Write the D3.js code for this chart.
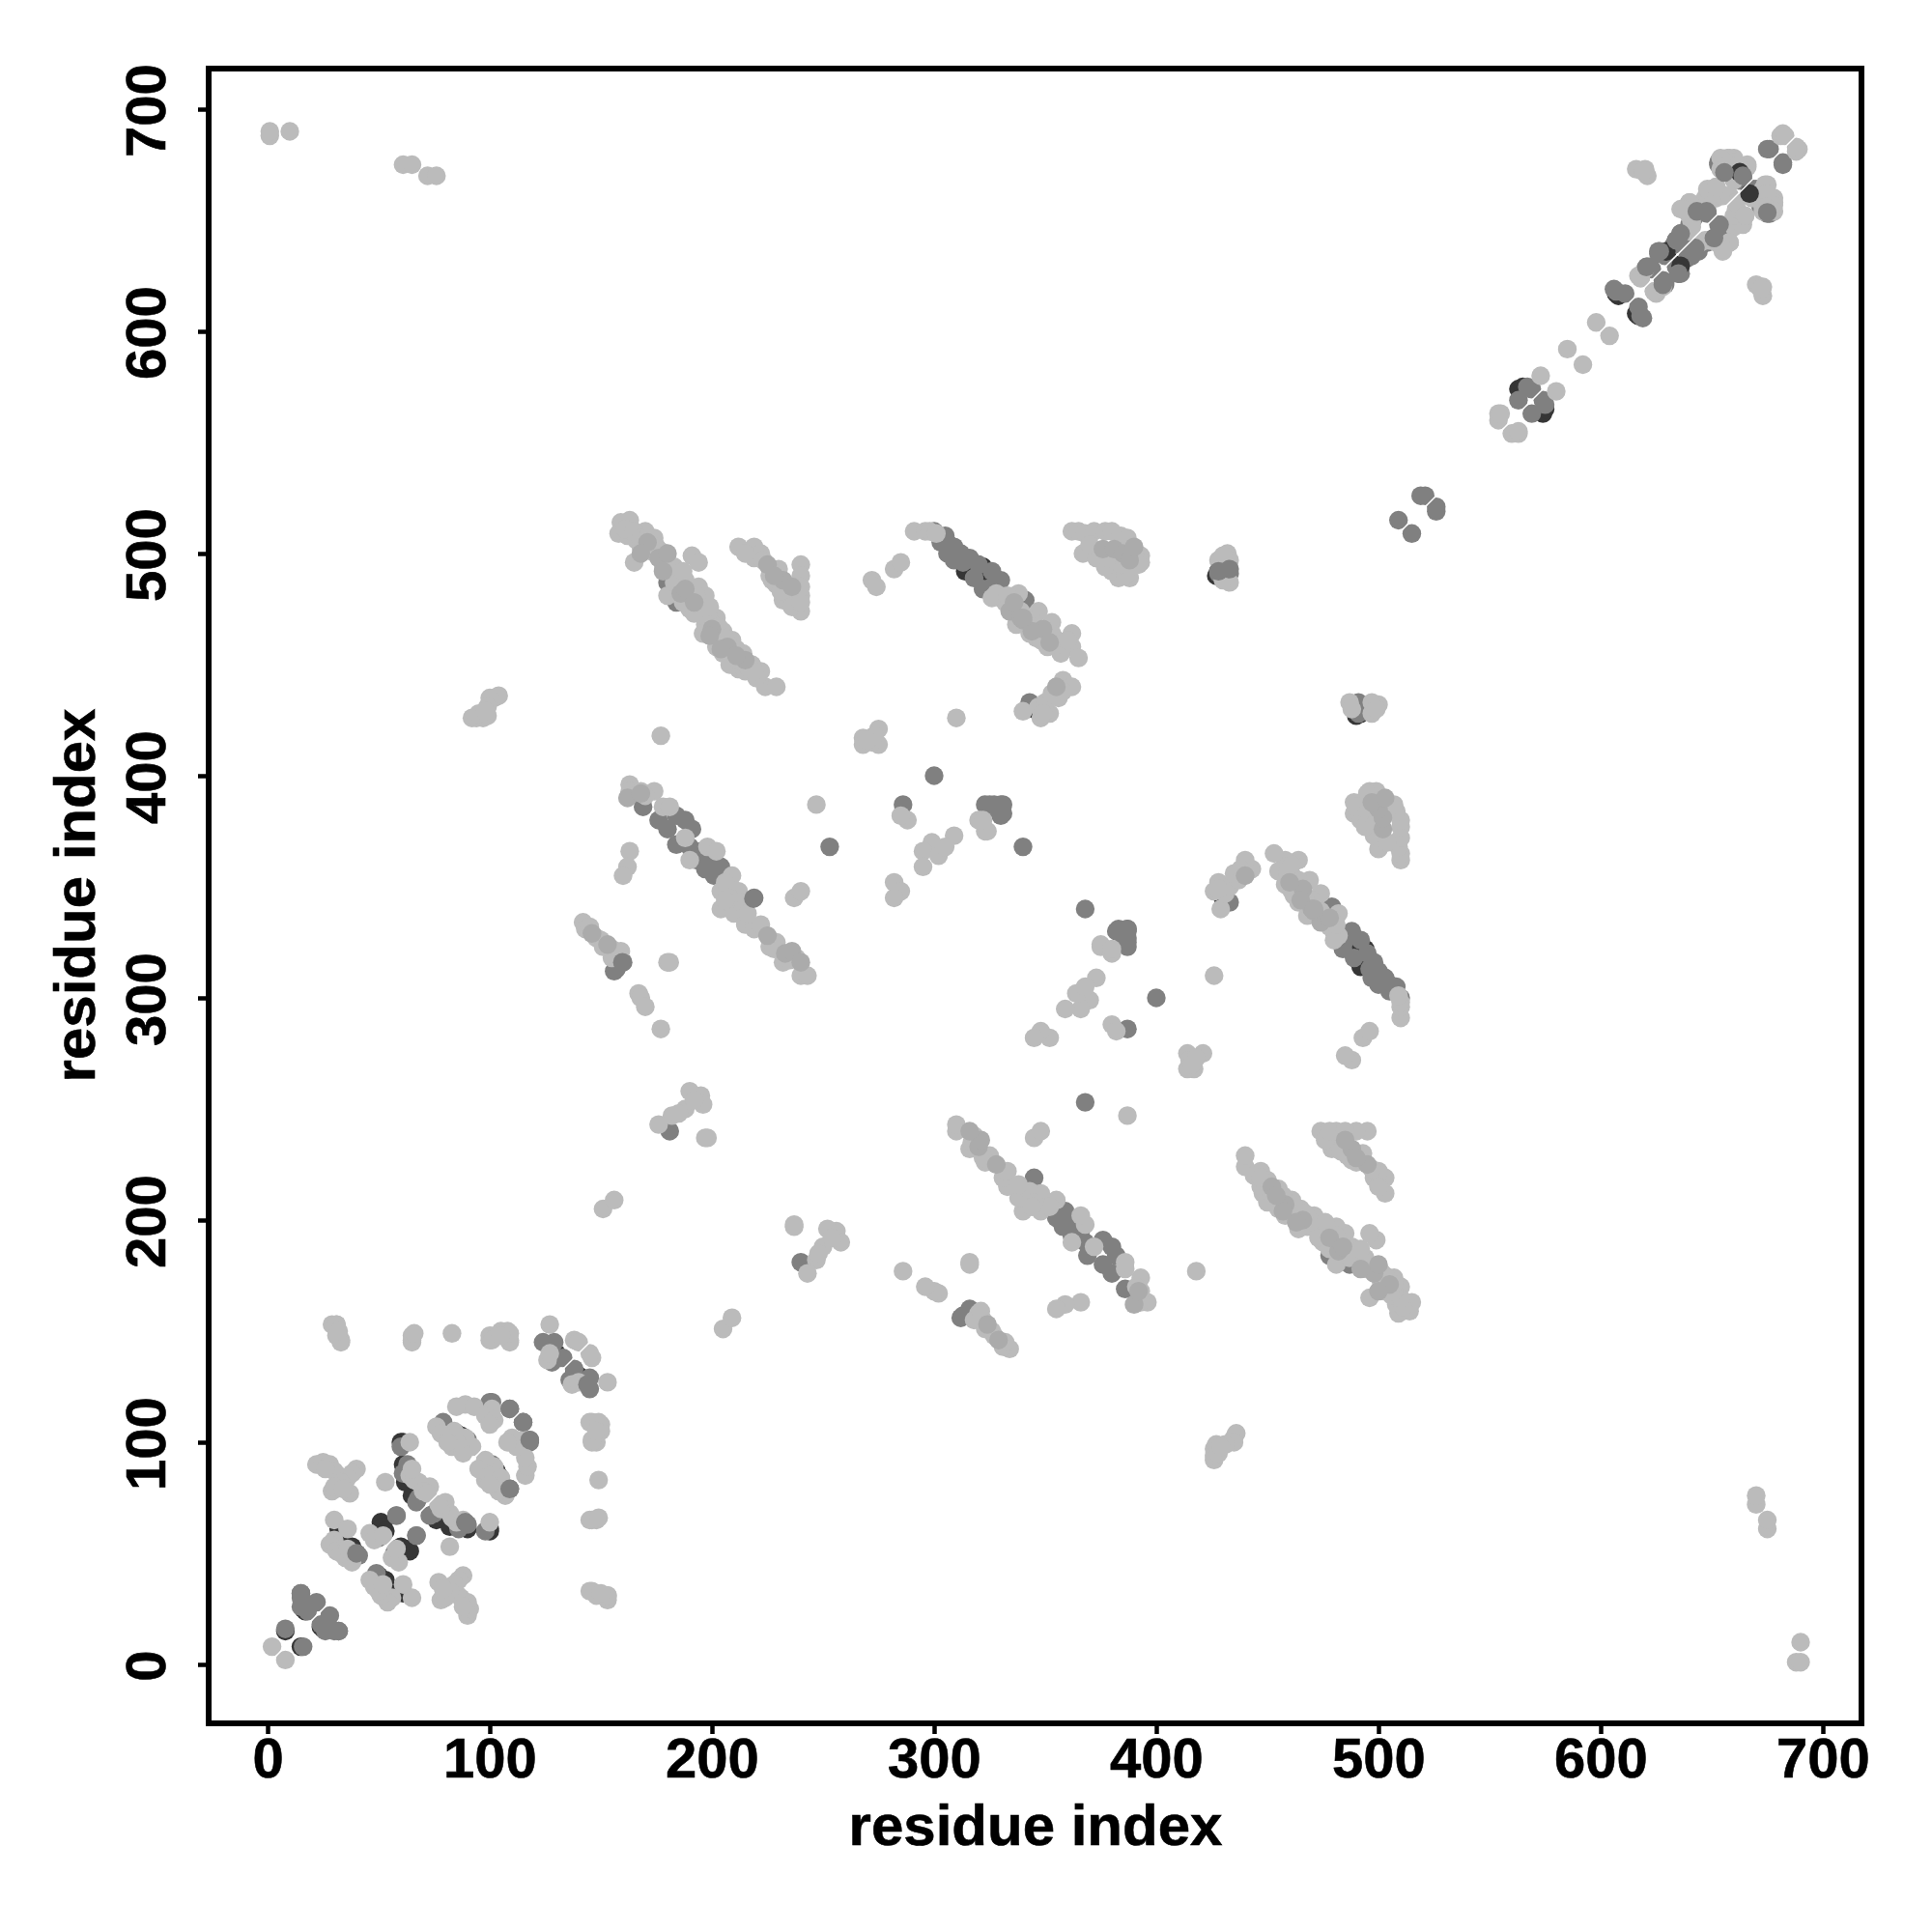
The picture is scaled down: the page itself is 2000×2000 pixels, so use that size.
<!DOCTYPE html>
<html><head><meta charset="utf-8">
<script src="https://cdn.jsdelivr.net/npm/d3@7/dist/d3.min.js"></script>
<style>html,body{margin:0;padding:0;background:#fff}svg{display:block}text{font-family:"Liberation Sans",Arial,sans-serif;font-weight:bold;fill:#000;stroke:#000;stroke-width:.6px}</style>
</head><body><div id="chart"></div>
<script>
const tickValues=[0,100,200,300,400,500,600,700];
const axisTitle="residue index";
// residue contact pairs [i,j], plotted at (i,j) and (j,i)
const darkContacts=[[8,15],[16,25],[17,24],[32,61],[33,58],[40,50],[38,53],[51,64],[52,62],[53,60],[60,100],[61,90],[62,82],[65,76],[85,104],[87,103],[61,100],[130,140],[131,138],[182,491],[345,430],[358,460],[314,492],[317,496],[320,493],[323,490],[428,492],[427,490],[563,574],[565,575],[608,616],[607,617],[630,636],[663,670],[664,668],[663,668],[629,635],[494,322],[490,318]];
const midContacts=[[15,32],[15,26],[22,28],[15,30],[18,24],[8,16],[41,49],[58,67],[50,57],[60,98],[63,90],[61,86],[67,73],[68,75],[79,109],[78,105],[82,102],[86,103],[90,101],[79,108],[100,118],[109,115],[101,118],[124,145],[126,144],[128,136],[133,138],[129,145],[169,386],[184,382],[188,380],[176,380],[191,376],[180,376],[184,369],[193,362],[197,358],[204,359],[201,355],[199,360],[195,366],[190,368],[219,345],[184,478],[180,487],[185,490],[253,368],[300,400],[286,387],[323,387],[327,387],[330,387],[330,382],[383,331],[387,331],[387,325],[385,328],[160,316],[157,313],[156,312],[181,240],[305,508],[303,505],[307,503],[310,500],[306,500],[309,497],[313,496],[318,489],[326,485],[322,484],[330,480],[341,479],[355,461],[343,433],[430,494],[431,493],[428,491],[433,491],[509,515],[519,526],[521,526],[563,569],[567,575],[569,574],[606,619],[611,617],[607,618],[621,629],[628,621],[626,636],[635,626],[623,628],[622,629],[629,634],[635,640],[633,639],[636,644],[634,641],[640,648],[644,654],[648,654],[643,637],[651,642],[653,648],[653,676],[656,672],[662,671],[664,670],[664,672],[660,672],[662,668],[653,675],[675,682],[682,676],[495,320],[500,312],[505,306],[510,300],[492,326],[498,316],[503,309],[507,303],[488,330],[340,368]];
const softContacts=[[176,498],[180,500],[186,482],[192,478],[200,466],[207,458],[215,452],[178,492],[225,495],[232,488],[236,485],[228,490],[334,474],[340,470],[349,466],[336,478],[376,502],[381,502],[385,500],[388,497],[390,503],[355,440],[225,328],[233,320],[236,321],[240,316],[162,390],[168,392],[146,329],[153,324],[199,463],[204,457],[211,454],[171,505],[168,500],[188,484],[344,465],[339,471],[352,460],[471,340]];
const lightContacts=[[2,8],[30,65],[36,61],[30,56],[28,54],[31,51],[35,48],[38,46],[33,50],[36,52],[46,59],[48,56],[52,58],[53,82],[22,90],[25,91],[28,90],[30,87],[40,88],[38,86],[32,85],[36,84],[33,82],[29,78],[30,80],[37,77],[34,79],[26,88],[64,100],[64,85],[66,83],[68,82],[73,80],[70,78],[72,77],[65,88],[76,107],[80,103],[89,102],[92,98],[83,98],[88,95],[85,100],[84,105],[78,104],[81,100],[85,116],[89,117],[93,116],[101,115],[98,112],[102,110],[100,108],[31,153],[29,153],[33,146],[31,148],[65,148],[65,146],[83,149],[100,148],[105,150],[108,150],[109,146],[100,146],[127,153],[138,146],[140,145],[126,137],[127,140],[145,109],[149,109],[146,101],[148,105],[145,65],[149,66],[145,33],[153,31],[150,32],
[159,514],[163,515],[158,509],[170,510],[165,496],[174,507],[191,499],[194,496],[180,481],[194,485],[197,481],[190,475],[202,471],[197,468],[205,465],[209,461],[205,455],[214,455],[212,448],[222,447],[215,447],[224,440],[229,440],[162,508],[166,506],[168,503],[172,504],[178,495],[175,503],[188,488],[195,474],[199,470],[204,460],[210,452],[218,450],[220,444],[183,487],[189,483],[192,473],[196,464],[202,458],[208,450],
[161,511],[165,510],[168,507],[171,507],[173,501],[177,501],[183,494],[187,492],[187,478],[193,481],[199,476],[201,464],[203,467],[206,462],[211,457],[212,452],[216,449],[219,447],
[212,503],[219,503],[219,498],[230,493],[240,481],[232,479],[240,495],[240,490],[240,474],[222,500],[233,484],[238,478],[237,481],[227,488],[234,480],[215,500],[223,497],[226,490],[229,486],[231,483],[236,476],[240,478],[240,485],
[291,510],[296,510],[298,510],[301,509],[328,482],[332,478],[338,482],[336,473],[347,474],[344,470],[337,468],[353,469],[343,464],[350,463],[351,458],[362,464],[362,458],[357,455],[365,453],[326,480],[342,468],[346,462],[354,462],[333,481],[335,476],[339,474],[345,467],[348,461],[353,464],[356,459],[360,461],
[272,488],[274,485],[282,493],[285,496],[362,510],[365,510],[368,509],[372,510],[377,510],[380,510],[384,508],[387,507],[393,499],[393,496],[388,489],[383,489],[380,492],[392,495],[367,500],[373,498],[377,494],[370,504],[386,490],[384,495],[378,498],
[310,426],[340,429],[348,426],[352,428],[347,431],[350,433],[353,437],[356,435],[358,443],[362,440],[358,438],[349,428],[177,418],[268,417],[275,421],[275,414],[268,414],[272,415],[273,418],[270,416],
[247,387],[288,380],[285,382],[320,380],[323,375],[309,373],[299,370],[295,366],[295,359],[302,364],[305,368],[282,352],[285,348],[282,345],[237,345],[240,348],[375,324],[380,322],[163,366],[162,359],[160,355],[180,316],
[163,396],[163,393],[168,393],[174,393],[170,391],[178,386],[181,386],[188,372],[198,368],[202,366],[190,362],[209,355],[204,340],[212,348],[204,348],[210,338],[215,333],[219,331],[213,343],[222,333],[226,323],[232,316],[240,310],[243,310],[229,325],[238,318],[206,352],[208,345],[206,344],[216,338],[228,322],[235,317],
[142,334],[143,331],[148,327],[150,326],[155,322],[158,320],[155,318],[159,321],[145,332],[151,323],[167,302],[168,300],[170,296],[177,286],[181,316],[195,256],[190,258],[196,252],[188,250],[182,247],[176,243],[197,237],[192,254],[185,248],[198,237],[151,205],[156,209],
[433,487],[428,497],[432,500],[433,497],[430,488],[430,499],[92,426],[94,426],[97,426],[99,427],[102,435],[104,436],[100,435],[95,428],[99,431],[98,429],[1,688],[1,690],[10,690],[61,675],[65,675],[72,670],[76,670],
[554,563],[554,560],[555,563],[573,580],[585,592],[598,604],[618,624],[617,625],[624,618],[620,628],[640,645],[641,649],[640,652],[636,655],[640,658],[650,664],[654,662],[651,660],[647,660],[648,664],[652,660],[657,678],[660,678],[654,673],[658,674],[666,675],[660,668],[664,673],[666,674],[658,678],[660,676],[656,673],[662,675],[654,678],[656,674],[655,661],[665,652],[658,661],[682,689],[681,688],[683,688],[616,673],[620,673],[621,670],[619,672],[640,658],[641,647],[640,658],[637,655],[652,665]];
const overlayDark=[[629.5,636],[636,629.5],[662.6,671.6],[667,662]];
const overlayMid=[[144,126],[118,101],[115,109],[109,115],[58,67],[67,58],[40,50],[32,15],[15,32],[89,64],[109,79],[387,331],[428,492],[433,493],[218.7,344.7],[159.7,316],[675,653.5],[647.7,654],[643.3,654],[653.5,648],[651,642],[636,644],[634,641],[642.6,637.5],[628,621],[635,626],[620.6,629],[664,670],[655.7,671.5],[626.6,636]];
const gradeColors={dark:"#363636",mid:"#808080",soft:"#ababab",light:"#bbbbbb"};

const W=2000,H=2000;
const svg=d3.select("#chart").append("svg").attr("width",W).attr("height",H);
const x=d3.scaleLinear().domain([0,700]).range([277,1887]);
const y=d3.scaleLinear().domain([0,700]).range([1723,113]);
const L=216,R=1927,T=71,B=1784,rad=9.7;

function both(list){return list.flatMap(([i,j])=>[[i,j],[j,i]]);}
function layer(points,color,name){
  svg.append("g").attr("class",name).selectAll("circle").data(points).join("circle")
    .attr("cx",d=>x(d[0])).attr("cy",d=>y(d[1])).attr("r",rad).attr("fill",color);
}
layer(both(darkContacts),gradeColors.dark,"dark");
layer(both(midContacts),gradeColors.mid,"mid");
layer(both(lightContacts),gradeColors.light,"light");
layer(both(softContacts),gradeColors.soft,"soft");
layer(overlayDark,gradeColors.dark,"overlay-dark");
layer(overlayMid,gradeColors.mid,"overlay-mid");
svg.append("line").attr("x1",x(0)).attr("y1",y(0)).attr("x2",x(700)).attr("y2",y(700)).attr("stroke","#fff").attr("stroke-width",1.4);
svg.append("rect").attr("x",L).attr("y",T).attr("width",R-L).attr("height",B-T).attr("fill","none").attr("stroke","#000").attr("stroke-width",6);

const ax=svg.append("g").attr("transform",`translate(0,${B})`).call(d3.axisBottom(x).tickValues(tickValues).tickSize(11).tickSizeOuter(0).tickPadding(0));
ax.select(".domain").remove();
ax.selectAll("line").attr("stroke","#000").attr("stroke-width",4.5);
ax.selectAll("text").attr("y",56).attr("dy",0).attr("font-size",58);
const ay=svg.append("g").attr("transform",`translate(${L},0)`).call(d3.axisLeft(y).tickValues(tickValues).tickSize(11).tickSizeOuter(0));
ay.select(".domain").remove();
ay.selectAll("line").attr("stroke","#000").attr("stroke-width",4.5);
ay.selectAll("text").attr("x",0).attr("dy",0).attr("font-size",58).attr("text-anchor","middle")
  .attr("transform",function(){return `translate(${171-L},1) rotate(-90)`;});
svg.append("text").attr("x",1072).attr("y",1910).attr("text-anchor","middle").attr("font-size",60).text(axisTitle);
svg.append("text").attr("transform","translate(98,927) rotate(-90)").attr("text-anchor","middle").attr("font-size",60).text(axisTitle);
</script></body></html>
